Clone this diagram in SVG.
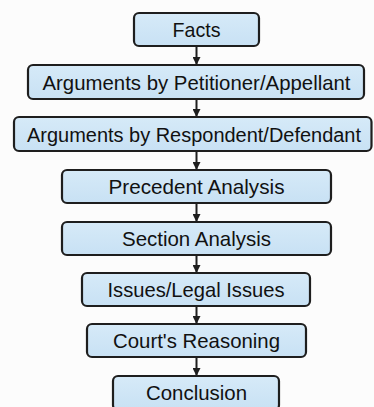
<svg xmlns="http://www.w3.org/2000/svg" width="374" height="407" viewBox="0 0 374 407">
<defs>
<linearGradient id="g" x1="0" y1="0" x2="0" y2="1">
<stop offset="0" stop-color="#d6eaf8"/>
<stop offset="1" stop-color="#c8e1f4"/>
</linearGradient>
<marker id="ah" markerWidth="8" markerHeight="8" refX="7" refY="4" orient="auto" markerUnits="userSpaceOnUse">
<path d="M0,0 L8,4 L0,8 Z" fill="#1e1e1e"/>
</marker>
<style>
.box{fill:url(#g);stroke:#1e1e1e;stroke-width:2.2}
.lbl{font-family:"Liberation Sans",Arial,sans-serif;font-size:21px;fill:#111;text-anchor:middle}
.conn line{stroke:#1e1e1e;stroke-width:2;marker-end:url(#ah)}
</style>
</defs>
<rect width="374" height="407" fill="#fcfcfc"/>
<g class="conn" id="connectors">
<line x1="196.5" y1="46" x2="196.5" y2="64"/>
<line x1="196.5" y1="99" x2="196.5" y2="116"/>
<line x1="196.5" y1="151" x2="196.5" y2="169"/>
<line x1="196.5" y1="203" x2="196.5" y2="221"/>
<line x1="196.5" y1="255" x2="196.5" y2="272"/>
<line x1="196.5" y1="306" x2="196.5" y2="323"/>
<line x1="196.5" y1="357" x2="196.5" y2="375"/>
</g>
<g id="facts"><rect class="box" x="134" y="13" width="125" height="33" rx="5"/><text class="lbl" x="196.5" y="37" textLength="48" lengthAdjust="spacingAndGlyphs">Facts</text></g>
<g id="petitioner"><rect class="box" x="28" y="65" width="336" height="34" rx="5"/><text class="lbl" x="196.5" y="89.5" textLength="308" lengthAdjust="spacingAndGlyphs">Arguments by Petitioner/Appellant</text></g>
<g id="respondent"><rect class="box" x="14" y="117" width="357.5" height="34" rx="5"/><text class="lbl" x="194" y="141.5" style="font-size:20px" textLength="334" lengthAdjust="spacingAndGlyphs">Arguments by Respondent/Defendant</text></g>
<g id="precedent"><rect class="box" x="62" y="170" width="269" height="33" rx="5"/><text class="lbl" x="196.5" y="193.5" textLength="176" lengthAdjust="spacingAndGlyphs">Precedent Analysis</text></g>
<g id="section"><rect class="box" x="62" y="222" width="269" height="33" rx="5"/><text class="lbl" x="196.5" y="245.5" textLength="149" lengthAdjust="spacingAndGlyphs">Section Analysis</text></g>
<g id="issues"><rect class="box" x="82" y="273" width="228" height="33" rx="5"/><text class="lbl" x="196" y="296.5" textLength="177" lengthAdjust="spacingAndGlyphs">Issues/Legal Issues</text></g>
<g id="reasoning"><rect class="box" x="87" y="324" width="219" height="33" rx="5"/><text class="lbl" x="196.5" y="347.5" textLength="167" lengthAdjust="spacingAndGlyphs">Court's Reasoning</text></g>
<g id="conclusion"><rect class="box" x="113" y="376" width="166" height="34" rx="5"/><text class="lbl" x="196.5" y="400" textLength="101" lengthAdjust="spacingAndGlyphs">Conclusion</text></g>
</svg>
